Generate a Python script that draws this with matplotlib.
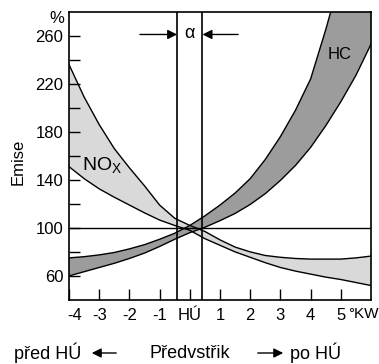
import matplotlib
matplotlib.use("Agg")
import matplotlib.pyplot as plt
import matplotlib.transforms as mtransforms
from matplotlib.patches import FancyArrowPatch

plt.rcParams['font.family'] = ['Liberation Sans', 'DejaVu Sans']

# --- data -----------------------------------------------------------
x = [-4, -3.5, -3, -2.5, -2, -1.5, -1, -0.5, 0, 0.5, 1, 1.5, 2, 2.5, 3,
     3.5, 4, 4.5, 5, 5.5, 6]
nox_hi = [236, 209, 186, 166, 150, 135, 119, 108, 102, 97, 90, 84, 80, 77,
          75.5, 74.5, 74, 74, 74, 75, 76.5]
nox_lo = [151, 141, 132.5, 125.5, 119, 112.5, 106.5, 102, 98, 91, 85.5, 80,
          75.5, 71, 67, 64, 61.5, 59, 57, 54.5, 52]
hc_hi = [75, 76, 77.5, 79.5, 82.5, 86, 90.5, 95.5, 102, 110, 119, 129, 141,
         157, 176, 198, 224, 265, 310, 350, 400]
hc_lo = [60, 63.5, 67, 70.5, 74.5, 79, 84.5, 90.5, 96, 100.5, 106, 112,
         119.5, 128.5, 139.5, 152, 167, 185, 205, 227, 253]

xticks = [-4, -3, -2, -1, 0, 1, 2, 3, 4, 5]
xticklabels = ['-4', '-3', '-2', '-1', 'HÚ', '1', '2', '3', '4', '5']
yticks = [60, 80, 100, 120, 140, 160, 180, 200, 220, 240, 260]
yticklabels = ['60', '', '100', '', '140', '', '180', '', '220', '', '260']
alpha_lines = [-0.42, 0.42]
ref_level = 100

# --- figure ---------------------------------------------------------
fig = plt.figure(figsize=(3.79, 3.64), dpi=100)
ax = fig.add_axes([0.182, 0.176, 0.797, 0.792])

ax.fill_between(x, nox_lo, nox_hi, facecolor='#d9d9d9', edgecolor='none', zorder=1)
ax.fill_between(x, hc_lo, hc_hi, facecolor='#9c9c9c', edgecolor='none', zorder=2)
for ys in (nox_hi, nox_lo, hc_hi, hc_lo):
    ax.plot(x, ys, color='black', lw=1.0, zorder=3)

ax.axhline(ref_level, color='black', lw=1.0, zorder=4)
for xv in alpha_lines:
    ax.axvline(xv, color='black', lw=1.2, zorder=4)

ax.set_xlim(-4, 6)
ax.set_ylim(40, 280)
ax.set_xticks(xticks)
ax.set_xticklabels(xticklabels, fontsize=12)
ax.set_yticks(yticks)
ax.set_yticklabels(yticklabels, fontsize=12)
ax.tick_params(direction='in', length=8, width=1.0, pad=4)
ax.tick_params(axis='x', pad=6)
for s in ax.spines.values():
    s.set_linewidth(1.2)

# shift the "-4" label slightly right as in the original
lbl0 = ax.get_xticklabels()[0]
lbl0.set_transform(lbl0.get_transform() +
                   mtransforms.ScaledTranslation(6 / 100, 0, fig.dpi_scale_trans))

fig.text(0.998, 0.137, '°KW', fontsize=11, ha='right', va='center')

# labels
ax.text(-4.4, 274, '%', fontsize=12, ha='center', va='center', clip_on=False)
fig.text(0.048, 0.555, 'Emise', fontsize=12, rotation=90, ha='center', va='center')
ax.text(-2.9, 152, 'NO$_\\mathregular{X}$', fontsize=14, ha='center', va='center')
ax.text(4.95, 244, 'HC', fontsize=12, ha='center', va='center')

# alpha arrows
ax.annotate('', xy=(-0.42, 261), xytext=(-1.65, 261),
            arrowprops=dict(arrowstyle='-|>', color='black', lw=1.0,
                            mutation_scale=14, shrinkA=0, shrinkB=0))
ax.annotate('', xy=(0.42, 261), xytext=(1.6, 261),
            arrowprops=dict(arrowstyle='-|>', color='black', lw=1.0,
                            mutation_scale=14, shrinkA=0, shrinkB=0))
ax.text(0, 262, 'α', fontsize=13, ha='center', va='center')

# bottom captions
yb = 1 - 353 / 364
fig.text(14 / 379, yb, 'před HÚ', fontsize=13, ha='left', va='center')
fig.text(190 / 379, yb, 'Předvstřik', fontsize=13, ha='center', va='center')
fig.text(290 / 379, yb, 'po HÚ', fontsize=13, ha='left', va='center')
fig.add_artist(FancyArrowPatch(
    (119 / 379, yb), (89 / 379, yb), transform=fig.transFigure,
    arrowstyle='-|>', mutation_scale=14, color='black', lw=1.0))
fig.add_artist(FancyArrowPatch(
    (255 / 379, yb), (286 / 379, yb), transform=fig.transFigure,
    arrowstyle='-|>', mutation_scale=14, color='black', lw=1.0))

fig.savefig('out.png', dpi=100)
